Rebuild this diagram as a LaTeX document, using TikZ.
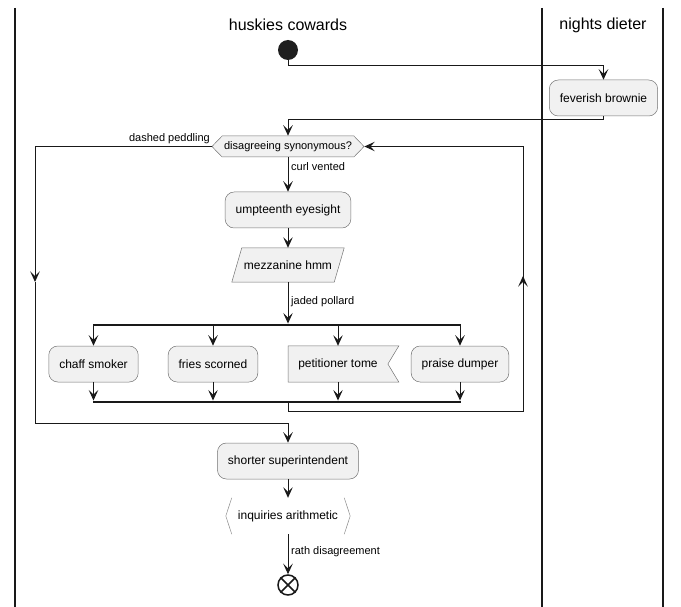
\documentclass[tikz,border=0pt]{standalone}
\usepackage{fontspec}
\setmainfont{Liberation Sans}
\usetikzlibrary{arrows.meta,shapes.symbols,shapes.geometric}
\begin{document}
\begin{tikzpicture}[x=1pt,y=-1pt,
  every node/.style={font=\fontsize{12}{14}\selectfont},
  act/.style={draw=black!55, line width=0.5pt, fill=black!5.5, rounded corners=9pt, minimum height=36pt, inner xsep=10.5pt, inner ysep=0pt},
  plainbox/.style={minimum height=36pt, inner xsep=10pt, inner ysep=0pt},
  shp/.style={draw=black!55, line width=0.5pt, fill=black!5.5},
  flow/.style={draw=black!90, line width=1pt},
  tip/.style={-{Stealth[length=10.5pt,width=9.5pt,inset=4.5pt]}},
  lbl/.style={font=\fontsize{11}{13}\selectfont, inner sep=1pt},
  lane/.style={draw=black!90, line width=1.5pt},
  barnode/.style={fill=black!90, minimum height=2.5pt, inner sep=0pt},
  title/.style={font=\fontsize{16}{19}\selectfont}
]
\useasboundingbox (0,0) rectangle (681,607);
% swimlanes
\draw[lane] (15,8) -- (15,607);
\draw[lane] (542,8) -- (542,607);
\draw[lane] (663,8) -- (663,607);
\node[title] (t1) at (288,25) {huskies cowards};
\node[title] (t2) at (603,25) {nights dieter};

% nodes
\node[circle, fill=black!88, minimum size=20pt, inner sep=0pt] (start) at (288,50) {};
\node[act] (fb) at (603.5,98) {feverish brownie};
\node[shp, signal, signal to=west and east, signal pointer angle=92, minimum height=21pt, inner xsep=2pt, inner ysep=0pt, font=\fontsize{11}{13}\selectfont] (dec) at (288,146.5) {disagreeing synonymous?};
\node[act] (ump) at (288,210) {umpteenth eyesight};
\node[plainbox, minimum height=34pt, inner xsep=12pt] (mez) at (288,265) {mezzanine hmm};
\draw[shp] ([xshift=10pt]mez.north west) -- (mez.north east) -- ([xshift=-10pt]mez.south east) -- (mez.south west) -- cycle;
\node at (mez) {mezzanine hmm};

\node[barnode, minimum width=368pt] (fork) at (276.5,325) {};
\node[act] (c1) at (93.5,364) {chaff smoker};
\node[act] (c2) at (213,364) {fries scorned};
\node[plainbox, inner xsep=10pt] (c3t) at (338,364) {petitioner tome};
\draw[shp] (c3t.north west) -- ([xshift=11pt]c3t.north east) -- (c3t.east) -- ([xshift=11pt]c3t.south east) -- (c3t.south west) -- cycle;
\node (c3) at (c3t) {petitioner tome};
\node[act] (c4) at (460,364) {praise dumper};
\node[barnode, minimum width=368pt] (join) at (276.5,402) {};

\node[act] (ss) at (288,461) {shorter superintendent};
\node[plainbox, minimum height=36pt, inner xsep=12pt] (inq) at (288,516) {inquiries arithmetic};
\draw[draw=black!45, line width=0.5pt] ([xshift=6pt]inq.north west) -- (inq.west) -- ([xshift=6pt]inq.south west);
\draw[draw=black!45, line width=0.5pt] ([xshift=-6pt]inq.north east) -- (inq.east) -- ([xshift=-6pt]inq.south east);
\node[circle, draw=black!90, line width=1.5pt, minimum size=20pt, inner sep=0pt] (end) at (288,585) {};
\draw[black!90, line width=1.5pt] (end.north west) -- (end.south east) (end.north east) -- (end.south west);

% coordinates for connectors
\coordinate (k1) at (288,66);
\coordinate (k2) at (603.5,120);
\coordinate (lA) at (35,146.5);
\coordinate (lM) at (35,282);
\coordinate (lB) at (35,423);
\coordinate (lC) at (288,423);
\coordinate (rA) at (288,411);
\coordinate (rB) at (523,411);
\coordinate (rM) at (523,276);
\coordinate (rC) at (523,146.5);

% connectors
\draw[flow,tip] (start) -- (k1) -| (fb);
\draw[flow,tip] (fb) -- (k2) -| (dec.north);
\draw[flow,tip] (dec.west) -- (lA) -- (lM);
\draw[flow,tip] (lM) -- (lB) -- (lC) -- (ss);
\node[lbl, anchor=south east] (lbl1) at (211,145) {dashed peddling};
\draw[flow,tip] (dec.south) -- (ump);
\node[lbl, anchor=west] (lbl2) at (290,167) {curl vented};
\draw[flow,tip] (ump) -- (mez);
\draw[flow,tip] (mez) -- (mez |- fork.north);
\node[lbl, anchor=west] (lbl3) at (290,302) {jaded pollard};
\draw[flow,tip] (fork.south -| c1) -- (c1);
\draw[flow,tip] (fork.south -| c2) -- (c2);
\draw[flow,tip] (fork.south -| c3) -- (c3t.north);
\draw[flow,tip] (fork.south -| c4) -- (c4);
\draw[flow,tip] (c1) -- (c1 |- join.north);
\draw[flow,tip] (c2) -- (c2 |- join.north);
\draw[flow,tip] (c3t.south) -- (c3t |- join.north);
\draw[flow,tip] (c4) -- (c4 |- join.north);
\draw[flow] (join.south -| rA) -- (rA) -- (rB) -- (rM);
\draw[flow,tip] (rB) -- (rM);
\draw[flow,tip] (rM) -- (rC) -- (dec.east);
\draw[flow,tip] (ss) -- (inq);
\draw[flow,tip] (inq) -- (end);
\node[lbl, anchor=west] (lbl4) at (290,552) {rath disagreement};
\end{tikzpicture}
\end{document}
